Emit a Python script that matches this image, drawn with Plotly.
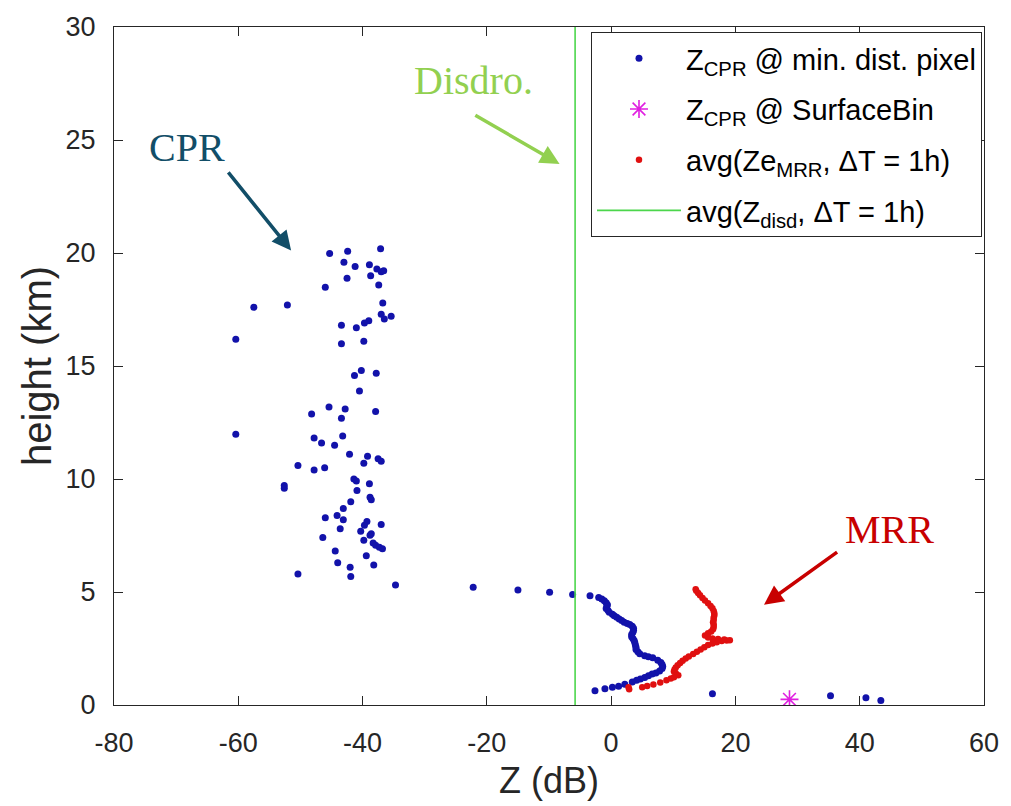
import plotly.graph_objects as go

# ---- data ----
# CPR reflectivity at minimum-distance pixel (dB, km)
cpr_z = [
    -45.3, -42.4, -37.1, -43.0, -41.2, -38.9, -37.7, -37.0, -36.6, -38.7,
    -42.5, -37.4, -46.0, -57.5, -52.1, -36.75, -37.0, -36.5, -35.4, -39.0,
    -39.7, -43.4, -41.0, -60.4, -43.4, -39.8, -40.2, -41.3, -37.8, -40.5,
    -45.4, -42.8, -48.2, -43.4, -37.9,
    -60.4, -47.8, -46.6, -44.5, -43.2, -42.1, -39.2, -39.8, -37.5, -37.0,
    -50.4, -47.8, -46.1, -41.4, -41.0, -38.9, -52.6, -52.6, -40.9, -38.8,
    -38.6, -41.9, -43.1, -46.0, -44.1, -43.1, -39.3, -39.7, -37.0, -40.3,
    -43.6, -38.6, -38.8, -46.4, -39.8, -38.3, -37.9, -37.3, -36.8, -44.4,
    -39.4, -44.0, -38.2, -42.0, -41.9, -50.4, -34.7,
    -22.2, -15.0, -9.9, -6.2,
    -3.4, -2.0, -1.5, -1.1, -0.8, -0.6, -0.7, -0.8, -0.5, -0.3,
    0.2, 0.5, 0.9, 1.3, 1.7, 2.1, 2.6, 3.0, 3.4, 3.6,
    3.6, 3.5, 3.3, 3.3, 3.5, 3.7, 3.8, 3.9, 4.0, 4.0,
    4.3, 4.6, 5.4, 6.0, 6.7, 7.5, 8.0, 8.2, 8.3, 8.2,
    7.8, 7.2, 6.6, 6.0, 5.4, 4.7, 4.1, 3.4, 2.2, 1.2,
    0.2, -1.0, -2.6,
    16.3, 35.3, 41.0, 43.4,
]
cpr_h = [
    19.98, 20.08, 20.19, 19.59, 19.40, 19.48, 19.29, 19.17, 19.22, 18.99,
    18.88, 18.58, 18.49, 17.60, 17.70, 17.79, 17.29, 17.08, 17.20, 17.00,
    16.90, 16.80, 16.69, 16.18, 15.99, 16.09, 14.80, 14.58, 14.68, 13.89,
    13.19, 13.10, 12.88, 12.69, 12.99,
    11.98, 11.81, 11.59, 11.49, 11.90, 11.10, 11.01, 10.70, 10.90, 10.79,
    10.60, 10.40, 10.50, 10.00, 9.91, 9.79, 9.71, 9.59, 9.49, 9.19,
    9.08, 8.99, 8.70, 8.29, 8.39, 8.20, 8.12, 7.95, 7.99, 7.69,
    7.80, 7.58, 7.51, 7.41, 7.29, 7.17, 7.07, 6.98, 6.91, 6.81,
    6.60, 6.29, 6.20, 6.10, 5.69, 5.80, 5.31,
    5.21, 5.09, 4.99, 4.89,
    4.83, 4.76, 4.69, 4.61, 4.52, 4.44, 4.36, 4.27, 4.18, 4.10,
    4.02, 3.95, 3.88, 3.81, 3.74, 3.66, 3.61, 3.56, 3.48, 3.40,
    3.31, 3.22, 3.12, 3.02, 2.94, 2.85, 2.76, 2.66, 2.56, 2.46,
    2.36, 2.27, 2.18, 2.14, 2.09, 1.98, 1.88, 1.79, 1.70, 1.61,
    1.50, 1.42, 1.37, 1.29, 1.22, 1.15, 1.09, 1.02, 0.92, 0.83,
    0.78, 0.72, 0.63,
    0.50, 0.41, 0.32, 0.20,
]

# CPR at surface bin
surf_z = [28.7]
surf_h = [0.25]

# MRR hourly average reflectivity
mrr_z = [
    2.8, 2.9,
    5.0, 5.8, 6.8, 7.9, 8.9, 9.6, 10.1, 10.8, 10.4, 10.1,
    10.2, 10.4, 10.7, 11.1, 11.5, 12.0, 12.5, 13.2, 13.8, 14.4,
    15.0, 15.6, 16.3, 17.0, 17.8, 18.6, 19.1, 18.2, 17.2, 16.3,
    15.6, 15.1, 15.6, 16.1, 16.4, 16.5, 16.5, 16.4, 16.5, 16.5,
    16.6, 16.6, 16.5, 16.3, 16.0, 15.6, 15.1, 14.7, 14.3, 14.0,
    13.7, 13.6,
]
mrr_h = [
    0.78, 0.70,
    0.78, 0.84, 0.91, 1.00, 1.10, 1.17, 1.23, 1.32, 1.40, 1.48,
    1.57, 1.66, 1.76, 1.86, 1.96, 2.06, 2.15, 2.26, 2.36, 2.46,
    2.56, 2.65, 2.72, 2.78, 2.83, 2.85, 2.86, 2.90, 2.92, 2.94,
    2.99, 3.08, 3.17, 3.25, 3.35, 3.45, 3.56, 3.66, 3.76, 3.86,
    3.96, 4.06, 4.16, 4.28, 4.38, 4.50, 4.62, 4.74, 4.86, 4.96,
    5.06, 5.12,
]

# disdrometer hourly average (vertical line)
disd_z = [-5.8, -5.8]
disd_h = [0, 30]

x_ticks = [-80, -60, -40, -20, 0, 20, 40, 60]
x_labels = ["-80", "-60", "-40", "-20", "0", "20", "40", "60"]
y_ticks = [0, 5, 10, 15, 20, 25, 30]
y_labels = ["0", "5", "10", "15", "20", "25", "30"]

AX = "#262626"
FONT = "Liberation Sans, Arial, sans-serif"
SERIF = "Liberation Serif, Times New Roman, serif"

fig = go.Figure()
fig.add_trace(go.Scatter(
    x=cpr_z, y=cpr_h, mode="markers",
    marker=dict(size=7, color="#1212aa", line=dict(width=0)),
    name="Z<sub>CPR</sub> @ min. dist. pixel", legendgroup="a"))
fig.add_trace(go.Scatter(
    x=surf_z, y=surf_h, mode="markers",
    marker=dict(symbol="asterisk-open", size=15, color="#e020e0",
                line=dict(width=1.6, color="#e020e0")),
    name="Z<sub>CPR</sub> @ SurfaceBin", legendgroup="b"))
fig.add_trace(go.Scatter(
    x=mrr_z, y=mrr_h, mode="markers",
    marker=dict(size=6.5, color="#e01010", line=dict(width=0)),
    name="avg(Ze<sub>MRR</sub>, ΔT = 1h)", legendgroup="c"))
fig.add_trace(go.Scatter(
    x=disd_z, y=disd_h, mode="lines",
    line=dict(color="#4cd64c", width=1.6),
    name="avg(Z<sub>disd</sub>, ΔT = 1h)", legendgroup="d"))

axis_common = dict(
    showline=True, linecolor=AX, linewidth=1, mirror="ticks",
    ticks="inside", ticklen=9, tickcolor=AX, showgrid=False, zeroline=False,
    tickfont=dict(family=FONT, size=27, color=AX),
)
fig.update_xaxes(range=[-80, 60], tickvals=x_ticks, ticktext=x_labels,
                 ticklabelstandoff=14,
                 title=dict(text="Z (dB)", font=dict(family=FONT, size=36, color=AX), standoff=10),
                 **axis_common)
fig.update_yaxes(range=[0, 30], tickvals=y_ticks, ticktext=y_labels,
                 ticklabelstandoff=12,
                 title=dict(text="height (km)", font=dict(family=FONT, size=40, color=AX), standoff=1),
                 **axis_common)

annots = [
    dict(text="CPR", x=-68.2, y=24.68, color="#124e68"),
    dict(text="Disdro.", x=-22.2, y=27.62, color="#92d050"),
    dict(text="MRR", x=44.8, y=7.77, color="#c80000"),
]
for a in annots:
    fig.add_annotation(x=a["x"], y=a["y"], xref="x", yref="y", text=a["text"],
                       showarrow=False, font=dict(family=SERIF, size=40, color=a["color"]))

arrows = [
    dict(x=-51.5, y=20.11, ax=-61.8, ay=23.63, color="#124e68"),
    dict(x=-8.3, y=23.94, ax=-22.1, ay=26.13, color="#92d050"),
    dict(x=24.6, y=4.44, ax=36.6, ay=6.81, color="#c80000"),
]
for a in arrows:
    fig.add_annotation(x=a["x"], y=a["y"], ax=a["ax"], ay=a["ay"], xref="x", yref="y",
                       axref="x", ayref="y", text="", showarrow=True,
                       arrowhead=2, arrowsize=1.1, arrowwidth=3.5, arrowcolor=a["color"])

fig.update_layout(
    width=1011, height=806,
    margin=dict(l=114, r=22, t=22, b=101),
    paper_bgcolor="white", plot_bgcolor="white",
    showlegend=True,
    legend=dict(x=0.9977, y=0.9927, xanchor="right", yanchor="top",
                bgcolor="white", bordercolor=AX, borderwidth=1,
                font=dict(family=FONT, size=29, color="#000000"),
                tracegroupgap=10, itemwidth=84),
)

fig.write_html("out.html")
